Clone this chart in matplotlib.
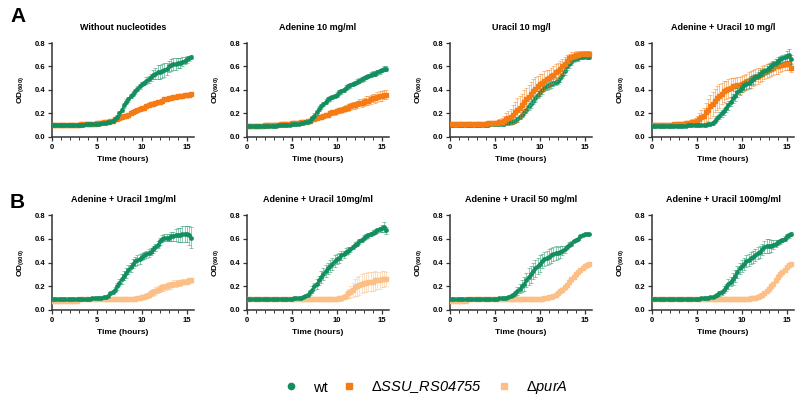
import numpy as np
import matplotlib
matplotlib.use("Agg")
import matplotlib.pyplot as plt
from matplotlib.ticker import MultipleLocator

plt.rcParams['font.family'] = ['Liberation Sans', 'DejaVu Sans']
plt.rcParams['mathtext.fontset'] = 'custom'
plt.rcParams['mathtext.rm'] = 'Liberation Sans'
plt.rcParams['mathtext.bf'] = 'Liberation Sans:bold'
plt.rcParams['mathtext.it'] = 'Liberation Sans:italic'

# time points (hours), every 15 min
time_h = np.arange(63) * 0.25

green = '#138f5f'
orange = '#f57c14'
light_orange = '#fcbf86'

# %% Panel A data
a1_wt = [0.10, 0.10, 0.10, 0.10, 0.10, 0.10, 0.10, 0.10, 0.10, 0.10, 0.10, 0.10,
         0.10, 0.10, 0.10, 0.11, 0.11, 0.11, 0.11, 0.11, 0.11, 0.11, 0.12, 0.12,
         0.12, 0.13, 0.13, 0.14, 0.15, 0.17, 0.20, 0.23, 0.27, 0.30, 0.32, 0.35,
         0.37, 0.39, 0.41, 0.43, 0.45, 0.46, 0.48, 0.49, 0.51, 0.53, 0.54, 0.55,
         0.55, 0.56, 0.57, 0.58, 0.60, 0.61, 0.62, 0.62, 0.63, 0.63, 0.64, 0.65,
         0.66, 0.67, 0.68]
a1_wt_sd = [0.005, 0.005, 0.005, 0.005, 0.005, 0.005, 0.005, 0.005, 0.005, 0.005, 0.005, 0.005,
            0.005, 0.005, 0.005, 0.005, 0.005, 0.005, 0.005, 0.005, 0.005, 0.005, 0.005, 0.005,
            0.005, 0.005, 0.01, 0.01, 0.01, 0.015, 0.02, 0.02, 0.02, 0.02, 0.02, 0.02,
            0.02, 0.02, 0.02, 0.02, 0.02, 0.02, 0.03, 0.03, 0.03, 0.04, 0.05, 0.06,
            0.06, 0.06, 0.06, 0.05, 0.05, 0.05, 0.05, 0.05, 0.04, 0.04, 0.04, 0.03,
            0.03, 0.02, 0.02]
a1_ko = [0.10, 0.10, 0.10, 0.10, 0.10, 0.10, 0.10, 0.10, 0.10, 0.10, 0.10, 0.10,
         0.10, 0.11, 0.11, 0.11, 0.11, 0.11, 0.11, 0.11, 0.12, 0.12, 0.12, 0.13,
         0.13, 0.13, 0.14, 0.14, 0.15, 0.15, 0.16, 0.17, 0.18, 0.18, 0.19, 0.20,
         0.21, 0.22, 0.23, 0.24, 0.25, 0.25, 0.26, 0.27, 0.28, 0.28, 0.29, 0.30,
         0.30, 0.31, 0.32, 0.32, 0.33, 0.33, 0.34, 0.34, 0.35, 0.35, 0.35, 0.36,
         0.36, 0.36, 0.37]
a1_ko_sd = [0.004, 0.004, 0.004, 0.004, 0.004, 0.004, 0.004, 0.004, 0.004, 0.004, 0.004, 0.004,
            0.004, 0.004, 0.004, 0.004, 0.004, 0.004, 0.004, 0.004, 0.004, 0.004, 0.004, 0.004,
            0.005, 0.005, 0.005, 0.005, 0.005, 0.005, 0.005, 0.005, 0.005, 0.005, 0.005, 0.005,
            0.005, 0.005, 0.005, 0.005, 0.005, 0.005, 0.005, 0.005, 0.005, 0.005, 0.005, 0.005,
            0.006, 0.006, 0.006, 0.006, 0.006, 0.006, 0.006, 0.006, 0.007, 0.007, 0.007, 0.008,
            0.008, 0.008, 0.01]

a2_wt = [0.09, 0.09, 0.09, 0.09, 0.09, 0.09, 0.09, 0.09, 0.09, 0.09, 0.09, 0.09,
         0.09, 0.09, 0.10, 0.10, 0.10, 0.10, 0.10, 0.10, 0.11, 0.11, 0.11, 0.11,
         0.12, 0.12, 0.13, 0.13, 0.14, 0.16, 0.18, 0.21, 0.24, 0.26, 0.28, 0.30,
         0.32, 0.33, 0.34, 0.35, 0.36, 0.38, 0.39, 0.40, 0.42, 0.43, 0.44, 0.45,
         0.46, 0.47, 0.48, 0.49, 0.50, 0.51, 0.52, 0.53, 0.54, 0.54, 0.55, 0.56,
         0.57, 0.58, 0.58]
a2_wt_sd = [0.005, 0.005, 0.005, 0.005, 0.005, 0.005, 0.005, 0.005, 0.005, 0.005, 0.005, 0.005,
            0.005, 0.005, 0.005, 0.005, 0.005, 0.005, 0.005, 0.005, 0.005, 0.005, 0.005, 0.005,
            0.005, 0.005, 0.008, 0.01, 0.01, 0.015, 0.02, 0.02, 0.02, 0.02, 0.02, 0.02,
            0.02, 0.02, 0.02, 0.02, 0.02, 0.02, 0.02, 0.02, 0.02, 0.02, 0.02, 0.02,
            0.02, 0.02, 0.02, 0.02, 0.02, 0.02, 0.02, 0.02, 0.02, 0.02, 0.02, 0.02,
            0.02, 0.02, 0.02]
a2_ko = [0.09, 0.09, 0.09, 0.09, 0.09, 0.09, 0.09, 0.09, 0.10, 0.10, 0.10, 0.10,
         0.10, 0.10, 0.10, 0.11, 0.11, 0.11, 0.11, 0.11, 0.12, 0.12, 0.12, 0.12,
         0.13, 0.13, 0.13, 0.14, 0.14, 0.15, 0.15, 0.16, 0.17, 0.17, 0.18, 0.19,
         0.19, 0.20, 0.21, 0.21, 0.22, 0.23, 0.23, 0.24, 0.25, 0.25, 0.26, 0.27,
         0.27, 0.28, 0.29, 0.29, 0.30, 0.31, 0.31, 0.32, 0.33, 0.33, 0.34, 0.35,
         0.35, 0.36, 0.36]
a2_ko_sd = [0.005, 0.005, 0.005, 0.005, 0.005, 0.005, 0.005, 0.005, 0.005, 0.005, 0.005, 0.005,
            0.005, 0.005, 0.005, 0.005, 0.005, 0.005, 0.005, 0.005, 0.005, 0.005, 0.005, 0.005,
            0.005, 0.005, 0.005, 0.005, 0.008, 0.008, 0.01, 0.01, 0.01, 0.01, 0.01, 0.015,
            0.015, 0.015, 0.02, 0.02, 0.02, 0.02, 0.025, 0.025, 0.025, 0.03, 0.03, 0.03,
            0.03, 0.03, 0.03, 0.035, 0.035, 0.035, 0.035, 0.035, 0.035, 0.04, 0.04, 0.04,
            0.04, 0.04, 0.04]

a3_wt = [0.10, 0.10, 0.10, 0.10, 0.10, 0.10, 0.10, 0.10, 0.10, 0.10, 0.10, 0.10,
         0.10, 0.10, 0.10, 0.10, 0.10, 0.10, 0.11, 0.11, 0.11, 0.11, 0.11, 0.11,
         0.11, 0.12, 0.12, 0.13, 0.13, 0.14, 0.15, 0.17, 0.19, 0.21, 0.23, 0.26,
         0.28, 0.31, 0.33, 0.36, 0.38, 0.40, 0.42, 0.43, 0.44, 0.45, 0.46, 0.47,
         0.48, 0.50, 0.53, 0.56, 0.60, 0.62, 0.64, 0.66, 0.67, 0.67, 0.68, 0.68,
         0.69, 0.68, 0.68]
a3_wt_sd = [0.01, 0.01, 0.01, 0.01, 0.01, 0.01, 0.01, 0.01, 0.01, 0.01, 0.01, 0.01,
            0.01, 0.01, 0.01, 0.01, 0.01, 0.01, 0.01, 0.01, 0.01, 0.01, 0.01, 0.01,
            0.01, 0.01, 0.01, 0.01, 0.015, 0.015, 0.02, 0.02, 0.02, 0.025, 0.03, 0.03,
            0.03, 0.03, 0.03, 0.03, 0.03, 0.03, 0.03, 0.03, 0.03, 0.03, 0.03, 0.03,
            0.03, 0.03, 0.03, 0.03, 0.03, 0.03, 0.025, 0.025, 0.02, 0.02, 0.02, 0.02,
            0.02, 0.02, 0.02]
a3_ko = [0.11, 0.11, 0.11, 0.11, 0.11, 0.11, 0.11, 0.11, 0.11, 0.11, 0.11, 0.11,
         0.11, 0.11, 0.11, 0.11, 0.11, 0.12, 0.12, 0.12, 0.12, 0.12, 0.13, 0.13,
         0.14, 0.15, 0.16, 0.17, 0.19, 0.21, 0.23, 0.25, 0.27, 0.30, 0.32, 0.34,
         0.37, 0.39, 0.41, 0.43, 0.45, 0.46, 0.48, 0.49, 0.50, 0.52, 0.53, 0.55,
         0.56, 0.58, 0.60, 0.62, 0.65, 0.67, 0.68, 0.69, 0.70, 0.70, 0.71, 0.71,
         0.71, 0.71, 0.71]
a3_ko_sd = [0.01, 0.01, 0.01, 0.01, 0.01, 0.01, 0.01, 0.01, 0.01, 0.01, 0.01, 0.01,
            0.01, 0.01, 0.01, 0.01, 0.01, 0.01, 0.01, 0.01, 0.02, 0.02, 0.02, 0.03,
            0.04, 0.05, 0.06, 0.07, 0.08, 0.09, 0.10, 0.10, 0.10, 0.10, 0.10, 0.10,
            0.10, 0.10, 0.10, 0.09, 0.09, 0.08, 0.08, 0.08, 0.07, 0.07, 0.07, 0.07,
            0.07, 0.07, 0.06, 0.06, 0.05, 0.04, 0.04, 0.03, 0.03, 0.02, 0.02, 0.02,
            0.02, 0.02, 0.02]

a4_wt = [0.09, 0.09, 0.09, 0.09, 0.09, 0.09, 0.09, 0.09, 0.09, 0.09, 0.09, 0.09,
         0.09, 0.09, 0.09, 0.09, 0.10, 0.10, 0.10, 0.10, 0.10, 0.10, 0.10, 0.10,
         0.10, 0.11, 0.11, 0.12, 0.14, 0.16, 0.18, 0.20, 0.22, 0.25, 0.27, 0.30,
         0.33, 0.35, 0.38, 0.40, 0.42, 0.44, 0.45, 0.46, 0.48, 0.49, 0.51, 0.52,
         0.54, 0.55, 0.56, 0.57, 0.59, 0.60, 0.62, 0.63, 0.65, 0.66, 0.67, 0.68,
         0.69, 0.70, 0.66]
a4_wt_sd = [0.005, 0.005, 0.005, 0.005, 0.005, 0.005, 0.005, 0.005, 0.005, 0.005, 0.005, 0.005,
            0.005, 0.005, 0.005, 0.005, 0.005, 0.005, 0.005, 0.005, 0.005, 0.005, 0.005, 0.005,
            0.005, 0.01, 0.01, 0.015, 0.02, 0.02, 0.03, 0.03, 0.03, 0.04, 0.04, 0.04,
            0.04, 0.04, 0.04, 0.04, 0.04, 0.04, 0.04, 0.04, 0.04, 0.04, 0.03, 0.03,
            0.03, 0.03, 0.03, 0.03, 0.03, 0.03, 0.03, 0.03, 0.03, 0.03, 0.03, 0.03,
            0.04, 0.05, 0.04]
a4_ko = [0.10, 0.10, 0.10, 0.10, 0.10, 0.10, 0.10, 0.10, 0.10, 0.10, 0.11, 0.11,
         0.11, 0.11, 0.11, 0.12, 0.12, 0.12, 0.13, 0.13, 0.14, 0.15, 0.17, 0.18,
         0.21, 0.23, 0.26, 0.28, 0.31, 0.33, 0.35, 0.37, 0.39, 0.40, 0.41, 0.42,
         0.43, 0.43, 0.44, 0.44, 0.45, 0.46, 0.47, 0.48, 0.49, 0.50, 0.51, 0.52,
         0.53, 0.54, 0.55, 0.56, 0.57, 0.58, 0.59, 0.60, 0.60, 0.61, 0.61, 0.62,
         0.62, 0.62, 0.59]
a4_ko_sd = [0.01, 0.01, 0.01, 0.01, 0.01, 0.01, 0.01, 0.01, 0.01, 0.01, 0.01, 0.01,
            0.01, 0.01, 0.01, 0.015, 0.015, 0.02, 0.02, 0.03, 0.04, 0.05, 0.06, 0.07,
            0.08, 0.09, 0.10, 0.10, 0.10, 0.10, 0.10, 0.09, 0.09, 0.08, 0.08, 0.08,
            0.07, 0.07, 0.07, 0.07, 0.07, 0.07, 0.07, 0.07, 0.07, 0.07, 0.07, 0.07,
            0.06, 0.06, 0.06, 0.06, 0.06, 0.06, 0.06, 0.06, 0.06, 0.06, 0.05, 0.05,
            0.05, 0.05, 0.04]

# %% Panel B data
b1_wt = [0.09, 0.09, 0.09, 0.09, 0.09, 0.09, 0.09, 0.09, 0.09, 0.09, 0.09, 0.09,
         0.09, 0.09, 0.09, 0.09, 0.09, 0.09, 0.10, 0.10, 0.10, 0.10, 0.10, 0.11,
         0.11, 0.12, 0.14, 0.15, 0.17, 0.20, 0.23, 0.26, 0.29, 0.31, 0.34, 0.36,
         0.39, 0.41, 0.42, 0.43, 0.45, 0.46, 0.47, 0.48, 0.49, 0.51, 0.53, 0.55,
         0.58, 0.60, 0.61, 0.61, 0.61, 0.62, 0.62, 0.63, 0.63, 0.63, 0.64, 0.64,
         0.64, 0.63, 0.61]
b1_wt_sd = [0.005, 0.005, 0.005, 0.005, 0.005, 0.005, 0.005, 0.005, 0.005, 0.005, 0.005, 0.005,
            0.005, 0.005, 0.005, 0.005, 0.005, 0.005, 0.005, 0.005, 0.005, 0.005, 0.005, 0.005,
            0.008, 0.01, 0.01, 0.015, 0.02, 0.03, 0.03, 0.04, 0.04, 0.04, 0.04, 0.04,
            0.04, 0.04, 0.04, 0.04, 0.03, 0.03, 0.03, 0.03, 0.03, 0.03, 0.03, 0.03,
            0.03, 0.03, 0.03, 0.03, 0.03, 0.04, 0.04, 0.05, 0.06, 0.06, 0.07, 0.07,
            0.07, 0.08, 0.09]
b1_pur = [0.08, 0.08, 0.08, 0.08, 0.08, 0.08, 0.08, 0.08, 0.08, 0.08, 0.08, 0.08,
          0.09, 0.09, 0.09, 0.09, 0.09, 0.09, 0.09, 0.09, 0.09, 0.09, 0.09, 0.09,
          0.09, 0.09, 0.09, 0.09, 0.09, 0.09, 0.09, 0.09, 0.09, 0.09, 0.09, 0.09,
          0.09, 0.09, 0.10, 0.10, 0.11, 0.11, 0.12, 0.13, 0.14, 0.15, 0.16, 0.17,
          0.18, 0.19, 0.19, 0.20, 0.21, 0.21, 0.22, 0.22, 0.23, 0.23, 0.24, 0.24,
          0.24, 0.25, 0.25]
b1_pur_sd = [0.005, 0.005, 0.005, 0.005, 0.005, 0.005, 0.005, 0.005, 0.005, 0.005, 0.005, 0.005,
             0.005, 0.005, 0.005, 0.005, 0.005, 0.005, 0.005, 0.005, 0.005, 0.005, 0.005, 0.005,
             0.005, 0.005, 0.005, 0.005, 0.005, 0.005, 0.005, 0.005, 0.005, 0.005, 0.005, 0.005,
             0.01, 0.01, 0.01, 0.015, 0.02, 0.02, 0.02, 0.025, 0.025, 0.03, 0.03, 0.03,
             0.03, 0.03, 0.03, 0.03, 0.03, 0.03, 0.03, 0.03, 0.025, 0.025, 0.025, 0.02,
             0.02, 0.02, 0.02]

b2_wt = [0.09, 0.09, 0.09, 0.09, 0.09, 0.09, 0.09, 0.09, 0.09, 0.09, 0.09, 0.09,
         0.09, 0.09, 0.09, 0.09, 0.09, 0.09, 0.09, 0.09, 0.09, 0.10, 0.10, 0.10,
         0.10, 0.11, 0.12, 0.13, 0.15, 0.17, 0.20, 0.22, 0.25, 0.28, 0.30, 0.33,
         0.35, 0.37, 0.39, 0.41, 0.43, 0.44, 0.46, 0.47, 0.49, 0.50, 0.51, 0.53,
         0.55, 0.56, 0.58, 0.59, 0.61, 0.62, 0.63, 0.64, 0.65, 0.66, 0.67, 0.68,
         0.69, 0.70, 0.67]
b2_wt_sd = [0.005, 0.005, 0.005, 0.005, 0.005, 0.005, 0.005, 0.005, 0.005, 0.005, 0.005, 0.005,
            0.005, 0.005, 0.005, 0.005, 0.005, 0.005, 0.005, 0.005, 0.005, 0.005, 0.005, 0.005,
            0.008, 0.01, 0.01, 0.015, 0.02, 0.03, 0.03, 0.04, 0.04, 0.05, 0.05, 0.05,
            0.05, 0.05, 0.05, 0.05, 0.04, 0.04, 0.04, 0.03, 0.03, 0.03, 0.02, 0.02,
            0.02, 0.02, 0.02, 0.02, 0.02, 0.02, 0.02, 0.02, 0.02, 0.02, 0.02, 0.02,
            0.03, 0.04, 0.03]
b2_pur = [0.09, 0.09, 0.09, 0.09, 0.09, 0.09, 0.09, 0.09, 0.09, 0.09, 0.09, 0.09,
          0.09, 0.09, 0.09, 0.09, 0.09, 0.09, 0.09, 0.09, 0.09, 0.09, 0.09, 0.09,
          0.09, 0.09, 0.09, 0.09, 0.09, 0.09, 0.09, 0.09, 0.09, 0.09, 0.09, 0.09,
          0.09, 0.09, 0.09, 0.09, 0.09, 0.10, 0.10, 0.11, 0.12, 0.14, 0.15, 0.17,
          0.19, 0.20, 0.21, 0.22, 0.23, 0.23, 0.24, 0.24, 0.24, 0.25, 0.25, 0.25,
          0.26, 0.26, 0.26]
b2_pur_sd = [0.005, 0.005, 0.005, 0.005, 0.005, 0.005, 0.005, 0.005, 0.005, 0.005, 0.005, 0.005,
             0.005, 0.005, 0.005, 0.005, 0.005, 0.005, 0.005, 0.005, 0.005, 0.005, 0.005, 0.005,
             0.005, 0.005, 0.005, 0.005, 0.005, 0.005, 0.005, 0.005, 0.005, 0.005, 0.005, 0.005,
             0.005, 0.005, 0.005, 0.01, 0.01, 0.015, 0.02, 0.02, 0.03, 0.04, 0.05, 0.06,
             0.07, 0.08, 0.08, 0.08, 0.08, 0.08, 0.08, 0.08, 0.08, 0.08, 0.07, 0.07,
             0.07, 0.07, 0.06]

b3_wt = [0.09, 0.09, 0.09, 0.09, 0.09, 0.09, 0.09, 0.09, 0.09, 0.09, 0.09, 0.09,
         0.09, 0.09, 0.09, 0.09, 0.09, 0.09, 0.09, 0.09, 0.09, 0.09, 0.10, 0.10,
         0.10, 0.10, 0.11, 0.12, 0.13, 0.14, 0.16, 0.18, 0.20, 0.22, 0.25, 0.28,
         0.30, 0.33, 0.35, 0.37, 0.39, 0.41, 0.43, 0.44, 0.45, 0.46, 0.47, 0.48,
         0.48, 0.49, 0.50, 0.51, 0.53, 0.55, 0.56, 0.58, 0.59, 0.60, 0.62, 0.63,
         0.64, 0.64, 0.64]
b3_wt_sd = [0.005, 0.005, 0.005, 0.005, 0.005, 0.005, 0.005, 0.005, 0.005, 0.005, 0.005, 0.005,
            0.005, 0.005, 0.005, 0.005, 0.005, 0.005, 0.005, 0.005, 0.005, 0.005, 0.005, 0.005,
            0.005, 0.005, 0.008, 0.01, 0.015, 0.02, 0.03, 0.04, 0.05, 0.06, 0.06, 0.07,
            0.07, 0.07, 0.07, 0.07, 0.07, 0.06, 0.06, 0.06, 0.06, 0.06, 0.06, 0.06,
            0.05, 0.05, 0.04, 0.03, 0.02, 0.02, 0.02, 0.01, 0.01, 0.01, 0.01, 0.01,
            0.01, 0.01, 0.01]
b3_pur = [0.08, 0.08, 0.08, 0.08, 0.08, 0.08, 0.08, 0.08, 0.09, 0.09, 0.09, 0.09,
          0.09, 0.09, 0.09, 0.09, 0.09, 0.09, 0.09, 0.09, 0.09, 0.09, 0.09, 0.09,
          0.09, 0.09, 0.09, 0.09, 0.09, 0.09, 0.09, 0.09, 0.09, 0.09, 0.09, 0.09,
          0.09, 0.09, 0.09, 0.09, 0.09, 0.09, 0.10, 0.10, 0.11, 0.11, 0.12, 0.13,
          0.14, 0.16, 0.17, 0.19, 0.21, 0.24, 0.26, 0.28, 0.30, 0.32, 0.34, 0.35,
          0.37, 0.38, 0.39]
b3_pur_sd = [0.005, 0.005, 0.005, 0.005, 0.005, 0.005, 0.005, 0.005, 0.005, 0.005, 0.005, 0.005,
             0.005, 0.005, 0.005, 0.005, 0.005, 0.005, 0.005, 0.005, 0.005, 0.005, 0.005, 0.005,
             0.005, 0.005, 0.005, 0.005, 0.005, 0.005, 0.005, 0.005, 0.005, 0.005, 0.005, 0.005,
             0.005, 0.005, 0.005, 0.005, 0.005, 0.005, 0.005, 0.005, 0.01, 0.01, 0.01, 0.015,
             0.015, 0.02, 0.02, 0.02, 0.02, 0.02, 0.02, 0.02, 0.02, 0.02, 0.015, 0.015,
             0.01, 0.01, 0.01]

b4_wt = [0.09, 0.09, 0.09, 0.09, 0.09, 0.09, 0.09, 0.09, 0.09, 0.09, 0.09, 0.09,
         0.09, 0.09, 0.09, 0.09, 0.09, 0.09, 0.09, 0.09, 0.09, 0.09, 0.10, 0.10,
         0.10, 0.10, 0.11, 0.11, 0.12, 0.13, 0.14, 0.15, 0.17, 0.19, 0.22, 0.24,
         0.26, 0.29, 0.32, 0.35, 0.37, 0.39, 0.41, 0.42, 0.44, 0.45, 0.46, 0.48,
         0.49, 0.51, 0.53, 0.54, 0.54, 0.54, 0.55, 0.56, 0.57, 0.58, 0.59, 0.60,
         0.62, 0.63, 0.64]
b4_wt_sd = [0.005, 0.005, 0.005, 0.005, 0.005, 0.005, 0.005, 0.005, 0.005, 0.005, 0.005, 0.005,
            0.005, 0.005, 0.005, 0.005, 0.005, 0.005, 0.005, 0.005, 0.005, 0.005, 0.005, 0.005,
            0.005, 0.005, 0.008, 0.01, 0.01, 0.015, 0.02, 0.02, 0.03, 0.03, 0.04, 0.04,
            0.05, 0.05, 0.05, 0.05, 0.05, 0.05, 0.05, 0.05, 0.05, 0.05, 0.05, 0.05,
            0.05, 0.05, 0.05, 0.06, 0.06, 0.05, 0.04, 0.03, 0.02, 0.02, 0.02, 0.02,
            0.02, 0.02, 0.02]
b4_pur = [0.09, 0.09, 0.09, 0.09, 0.09, 0.09, 0.09, 0.09, 0.09, 0.09, 0.09, 0.09,
          0.09, 0.09, 0.09, 0.09, 0.09, 0.09, 0.09, 0.09, 0.09, 0.09, 0.09, 0.09,
          0.09, 0.09, 0.09, 0.09, 0.09, 0.09, 0.09, 0.09, 0.09, 0.09, 0.09, 0.09,
          0.09, 0.09, 0.09, 0.09, 0.09, 0.09, 0.09, 0.09, 0.10, 0.10, 0.10, 0.11,
          0.12, 0.13, 0.14, 0.16, 0.18, 0.20, 0.22, 0.25, 0.28, 0.30, 0.32, 0.34,
          0.36, 0.38, 0.39]
b4_pur_sd = [0.005, 0.005, 0.005, 0.005, 0.005, 0.005, 0.005, 0.005, 0.005, 0.005, 0.005, 0.005,
             0.005, 0.005, 0.005, 0.005, 0.005, 0.005, 0.005, 0.005, 0.005, 0.005, 0.005, 0.005,
             0.005, 0.005, 0.005, 0.005, 0.005, 0.005, 0.005, 0.005, 0.005, 0.005, 0.005, 0.005,
             0.005, 0.005, 0.005, 0.005, 0.005, 0.005, 0.005, 0.005, 0.005, 0.005, 0.01, 0.01,
             0.01, 0.01, 0.015, 0.015, 0.02, 0.02, 0.02, 0.02, 0.02, 0.02, 0.015, 0.015,
             0.01, 0.01, 0.01]

titles_a = ["Without nucleotides", "Adenine 10 mg/ml", "Uracil 10 mg/l", "Adenine + Uracil 10 mg/l"]
titles_b = ["Adenine + Uracil 1mg/ml", "Adenine + Uracil 10mg/ml",
            "Adenine + Uracil 50 mg/ml", "Adenine + Uracil 100mg/ml"]

panel_a = [(a1_wt, a1_wt_sd, a1_ko, a1_ko_sd), (a2_wt, a2_wt_sd, a2_ko, a2_ko_sd),
           (a3_wt, a3_wt_sd, a3_ko, a3_ko_sd), (a4_wt, a4_wt_sd, a4_ko, a4_ko_sd)]
panel_b = [(b1_wt, b1_wt_sd, b1_pur, b1_pur_sd), (b2_wt, b2_wt_sd, b2_pur, b2_pur_sd),
           (b3_wt, b3_wt_sd, b3_pur, b3_pur_sd), (b4_wt, b4_wt_sd, b4_pur, b4_pur_sd)]

# %% plot
fig = plt.figure(figsize=(8, 3.99), dpi=100)

lefts_px = [52, 247, 450, 652]
W, H = 800, 399


def draw_series(ax, y, sd, color, marker, order):
    ax.errorbar(time_h, y, yerr=sd, fmt='none', ecolor=color, alpha=0.55,
                elinewidth=0.6, capsize=1.5, capthick=0.6, zorder=order)
    ax.plot(time_h, y, color=color, lw=1.2, marker=marker, ms=2.4,
            mec=color, mfc=color, zorder=order + 1)


def style_axis(ax, title):
    ax.set_xlim(0, 15.8)
    ax.set_ylim(0, 0.8)
    ax.set_yticks([0.0, 0.2, 0.4, 0.6, 0.8])
    ax.set_yticklabels(['0.0', '0.2', '0.4', '0.6', '0.8'])
    ax.set_xticks([0, 5, 10, 15])
    ax.xaxis.set_minor_locator(MultipleLocator(1))
    for s in ['top', 'right']:
        ax.spines[s].set_visible(False)
    for s in ['left', 'bottom']:
        ax.spines[s].set_linewidth(1.1)
        ax.spines[s].set_color('#333333')
    ax.tick_params(axis='both', which='major', length=3, width=0.9, labelsize=5.5, pad=2,
                   color='#333333')
    ax.tick_params(axis='x', which='minor', length=1.8, width=0.7, color='#333333')
    for lab in ax.get_xticklabels() + ax.get_yticklabels():
        lab.set_fontweight('bold')
    ax.set_title(title, fontsize=6.5, fontweight='bold', pad=9)
    ax.set_xlabel("Time (hours)", fontsize=6, fontweight='bold', labelpad=4)
    ax.set_ylabel(r'$\mathbf{OD_{(600)}}$', fontsize=6, labelpad=6)


for row, (panel, titles, color2, bottom_px, top_px) in enumerate([
        (panel_a, titles_a, orange, 137, 43),
        (panel_b, titles_b, light_orange, 310, 215)]):
    for i, (wt, wt_sd, mut, mut_sd) in enumerate(panel):
        ax = fig.add_axes([lefts_px[i] / W, 1 - bottom_px / H, 142 / W, (bottom_px - top_px) / H])
        if row == 0 and i == 2:
            draw_series(ax, wt, wt_sd, green, 'o', 2)
            draw_series(ax, mut, mut_sd, color2, 's', 4)
        else:
            draw_series(ax, mut, mut_sd, color2, 's', 2)
            draw_series(ax, wt, wt_sd, green, 'o', 4)
        style_axis(ax, titles[i])

fig.text(10 / W, 1 - 16 / H, "A", fontsize=15, fontweight='bold', va='center')
fig.text(10 / W, 1 - 203 / H, "B", fontsize=15, fontweight='bold', va='center')

handles = [
    plt.Line2D([], [], ls='none', marker='o', ms=4.5, color=green),
    plt.Line2D([], [], ls='none', marker='s', ms=4.5, color=orange),
    plt.Line2D([], [], ls='none', marker='s', ms=4.5, color=light_orange),
]
labels = ['wt', r'$\Delta$SSU_RS04755', r'$\Delta$purA']
leg = fig.legend(handles, labels, loc='center', bbox_to_anchor=(0.532, 1 - 388 / H), ncol=3,
                 frameon=False, fontsize=10.5, handlelength=1.0, handletextpad=1.0,
                 columnspacing=1.0)
for txt in leg.get_texts()[1:]:
    txt.set_fontstyle('italic')

fig.savefig("out.png", dpi=100)
